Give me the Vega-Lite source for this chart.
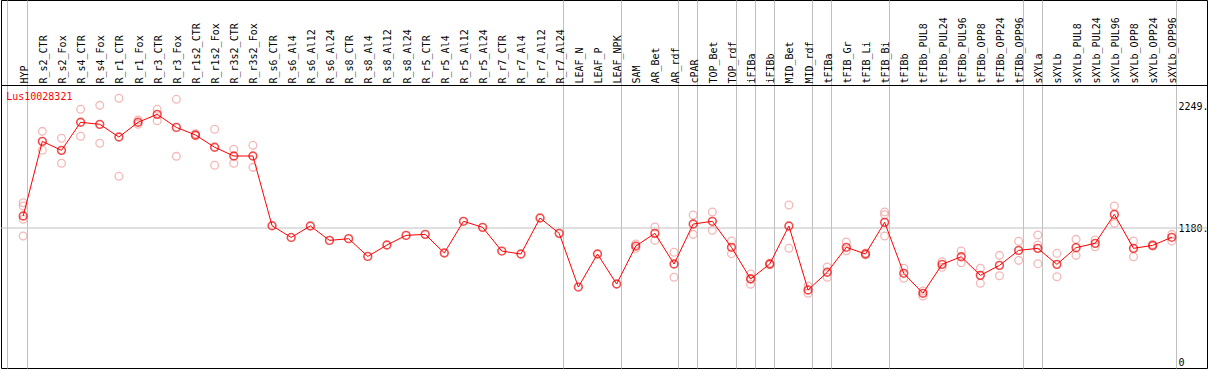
{
  "$schema": "https://vega.github.io/schema/vega-lite/v6.json",
  "width": 1206,
  "height": 368,
  "autosize": {"type": "none"},
  "padding": {"left": 1, "top": 0, "right": 2, "bottom": 2},
  "background": "white",
  "view": {"stroke": "black", "strokeWidth": 1},
  "config": {
    "font": "DejaVu Sans Mono",
    "axis": {"labelFont": "DejaVu Sans Mono", "labelFontSize": 10, "labelColor": "black", "title": null}
  },
  "datasets": {
    "means": [
      {"col": "HYP", "v": 1286}, {"col": "R_s2_CTR", "v": 1943}, {"col": "R_s2_Fox", "v": 1864},
      {"col": "R_s4_CTR", "v": 2111}, {"col": "R_s4_Fox", "v": 2093}, {"col": "R_r1_CTR", "v": 1981},
      {"col": "R_r1_Fox", "v": 2111}, {"col": "R_r3_CTR", "v": 2181}, {"col": "R_r3_Fox", "v": 2066},
      {"col": "R_r1s2_CTR", "v": 1999}, {"col": "R_r1s2_Fox", "v": 1891}, {"col": "R_r3s2_CTR", "v": 1814},
      {"col": "R_r3s2_Fox", "v": 1814}, {"col": "R_s6_CTR", "v": 1200}, {"col": "R_s6_Al4", "v": 1097},
      {"col": "R_s6_Al12", "v": 1198}, {"col": "R_s6_Al24", "v": 1071}, {"col": "R_s8_CTR", "v": 1086},
      {"col": "R_s8_Al4", "v": 930}, {"col": "R_s8_Al12", "v": 1030}, {"col": "R_s8_Al24", "v": 1115},
      {"col": "R_r5_CTR", "v": 1124}, {"col": "R_r5_Al4", "v": 960}, {"col": "R_r5_Al12", "v": 1239},
      {"col": "R_r5_Al24", "v": 1186}, {"col": "R_r7_CTR", "v": 977}, {"col": "R_r7_Al4", "v": 951},
      {"col": "R_r7_Al12", "v": 1268}, {"col": "R_r7_Al24", "v": 1133}, {"col": "LEAF_N", "v": 660},
      {"col": "LEAF_P", "v": 951}, {"col": "LEAF_NPK", "v": 687}, {"col": "SAM", "v": 1021},
      {"col": "AR_Bet", "v": 1133}, {"col": "AR_rdf", "v": 863}, {"col": "cPAR", "v": 1215},
      {"col": "TOP_Bet", "v": 1239}, {"col": "TOP_rdf", "v": 1010}, {"col": "iFIBa", "v": 731},
      {"col": "iFIBb", "v": 863}, {"col": "MID_Bet", "v": 1198}, {"col": "MID_rdf", "v": 634},
      {"col": "tFIBa", "v": 790}, {"col": "tFIB_Gr", "v": 1010}, {"col": "tFIB_Li", "v": 951},
      {"col": "tFIB_Bi", "v": 1230}, {"col": "tFIBb", "v": 781}, {"col": "tFIBb_PUL8", "v": 605},
      {"col": "tFIBb_PUL24", "v": 860}, {"col": "tFIBb_PUL96", "v": 927}, {"col": "tFIBb_OPP8", "v": 763},
      {"col": "tFIBb_OPP24", "v": 851}, {"col": "tFIBb_OPP96", "v": 983}, {"col": "sXYLa", "v": 1001},
      {"col": "sXYLb", "v": 860}, {"col": "sXYLb_PUL8", "v": 1007}, {"col": "sXYLb_PUL24", "v": 1045},
      {"col": "sXYLb_PUL96", "v": 1300}, {"col": "sXYLb_OPP8", "v": 1001}, {"col": "sXYLb_OPP24", "v": 1027},
      {"col": "sXYLb_OPP96", "v": 1098}
    ],
    "reps": [
      {"col": "HYP", "v": 1403}, {"col": "HYP", "v": 1374}, {"col": "HYP", "v": 1257}, {"col": "HYP", "v": 1110},
      {"col": "R_s2_CTR", "v": 2031}, {"col": "R_s2_CTR", "v": 1864},
      {"col": "R_s2_Fox", "v": 1970}, {"col": "R_s2_Fox", "v": 1750},
      {"col": "R_s4_CTR", "v": 2225}, {"col": "R_s4_CTR", "v": 1988},
      {"col": "R_s4_Fox", "v": 2260}, {"col": "R_s4_Fox", "v": 1926},
      {"col": "R_r1_CTR", "v": 2322}, {"col": "R_r1_CTR", "v": 1635},
      {"col": "R_r1_Fox", "v": 2131}, {"col": "R_r1_Fox", "v": 2093},
      {"col": "R_r3_CTR", "v": 2225}, {"col": "R_r3_CTR", "v": 2125},
      {"col": "R_r3_Fox", "v": 2313}, {"col": "R_r3_Fox", "v": 1811},
      {"col": "R_r1s2_CTR", "v": 2010}, {"col": "R_r1s2_CTR", "v": 1990},
      {"col": "R_r1s2_Fox", "v": 2049}, {"col": "R_r1s2_Fox", "v": 1732},
      {"col": "R_r3s2_CTR", "v": 1873}, {"col": "R_r3s2_CTR", "v": 1750},
      {"col": "R_r3s2_Fox", "v": 1908}, {"col": "R_r3s2_Fox", "v": 1714},
      {"col": "SAM", "v": 1039}, {"col": "SAM", "v": 1001},
      {"col": "AR_Bet", "v": 1189}, {"col": "AR_Bet", "v": 1071},
      {"col": "AR_rdf", "v": 966}, {"col": "AR_rdf", "v": 746},
      {"col": "cPAR", "v": 1294}, {"col": "cPAR", "v": 1124},
      {"col": "TOP_Bet", "v": 1321}, {"col": "TOP_Bet", "v": 1160},
      {"col": "TOP_rdf", "v": 1065}, {"col": "TOP_rdf", "v": 954},
      {"col": "iFIBa", "v": 775}, {"col": "iFIBa", "v": 684}, {"col": "iFIBa", "v": 735},
      {"col": "iFIBb", "v": 870}, {"col": "iFIBb", "v": 856},
      {"col": "MID_Bet", "v": 1383}, {"col": "MID_Bet", "v": 1001},
      {"col": "MID_rdf", "v": 669}, {"col": "MID_rdf", "v": 605},
      {"col": "tFIBa", "v": 837}, {"col": "tFIBa", "v": 746},
      {"col": "tFIB_Gr", "v": 1057}, {"col": "tFIB_Gr", "v": 980},
      {"col": "tFIB_Li", "v": 960}, {"col": "tFIB_Li", "v": 943},
      {"col": "tFIB_Bi", "v": 1321}, {"col": "tFIB_Bi", "v": 1297}, {"col": "tFIB_Bi", "v": 1110},
      {"col": "tFIBb", "v": 825}, {"col": "tFIBb", "v": 737},
      {"col": "tFIBb_PUL8", "v": 625}, {"col": "tFIBb_PUL8", "v": 581},
      {"col": "tFIBb_PUL24", "v": 883}, {"col": "tFIBb_PUL24", "v": 834},
      {"col": "tFIBb_PUL96", "v": 977}, {"col": "tFIBb_PUL96", "v": 874},
      {"col": "tFIBb_OPP8", "v": 825}, {"col": "tFIBb_OPP8", "v": 693},
      {"col": "tFIBb_OPP24", "v": 939}, {"col": "tFIBb_OPP24", "v": 760},
      {"col": "tFIBb_OPP96", "v": 1063}, {"col": "tFIBb_OPP96", "v": 895},
      {"col": "sXYLa", "v": 1118}, {"col": "sXYLa", "v": 1030}, {"col": "sXYLa", "v": 866},
      {"col": "sXYLb", "v": 957}, {"col": "sXYLb", "v": 751},
      {"col": "sXYLb_PUL8", "v": 1080}, {"col": "sXYLb_PUL8", "v": 939},
      {"col": "sXYLb_PUL24", "v": 1074}, {"col": "sXYLb_PUL24", "v": 1015},
      {"col": "sXYLb_PUL96", "v": 1374}, {"col": "sXYLb_PUL96", "v": 1221},
      {"col": "sXYLb_OPP8", "v": 1065}, {"col": "sXYLb_OPP8", "v": 927},
      {"col": "sXYLb_OPP24", "v": 1035}, {"col": "sXYLb_OPP24", "v": 1020},
      {"col": "sXYLb_OPP96", "v": 1124}, {"col": "sXYLb_OPP96", "v": 1065}
    ],
    "ref": [{"ref": 1180}],
    "gene": [{"gene": "Lus10028321", "at": "HYP", "v": 2334}]
  },
  "resolve": {"scale": {"x": "shared", "y": "shared"}, "axis": {"x": "independent", "y": "shared"}},
  "layer": [
    {
      "data": {"name": "ref"},
      "mark": {"type": "rule", "color": "#c0c0c0", "strokeWidth": 1},
      "encoding": {
        "y": {"field": "ref", "type": "quantitative",
          "scale": {"domain": [-52.8, 3187.8], "nice": false, "zero": false},
          "axis": {"orient": "right", "values": [0, 1180, 2249], "ticks": false, "domain": false, "grid": false,
            "labelAlign": "left", "labelBaseline": "middle", "labelPadding": -29,
            "labelExpr": "datum.value == 0 ? '0' : datum.value + '.'"}}
      }
    },
    {
      "data": {"name": "reps"},
      "mark": {"type": "point", "shape": "circle", "filled": false, "size": 60, "stroke": "#f09a9a", "strokeWidth": 1.3},
      "encoding": {
        "x": {"field": "col", "type": "nominal",
          "scale": {"type": "band", "paddingInner": 0, "paddingOuter": 1.2368, "align": 0.3298,
            "domain": ["HYP","R_s2_CTR","R_s2_Fox","R_s4_CTR","R_s4_Fox","R_r1_CTR","R_r1_Fox","R_r3_CTR","R_r3_Fox","R_r1s2_CTR","R_r1s2_Fox","R_r3s2_CTR","R_r3s2_Fox","R_s6_CTR","R_s6_Al4","R_s6_Al12","R_s6_Al24","R_s8_CTR","R_s8_Al4","R_s8_Al12","R_s8_Al24","R_r5_CTR","R_r5_Al4","R_r5_Al12","R_r5_Al24","R_r7_CTR","R_r7_Al4","R_r7_Al12","R_r7_Al24","LEAF_N","LEAF_P","LEAF_NPK","SAM","AR_Bet","AR_rdf","cPAR","TOP_Bet","TOP_rdf","iFIBa","iFIBb","MID_Bet","MID_rdf","tFIBa","tFIB_Gr","tFIB_Li","tFIB_Bi","tFIBb","tFIBb_PUL8","tFIBb_PUL24","tFIBb_PUL96","tFIBb_OPP8","tFIBb_OPP24","tFIBb_OPP96","sXYLa","sXYLb","sXYLb_PUL8","sXYLb_PUL24","sXYLb_PUL96","sXYLb_OPP8","sXYLb_OPP24","sXYLb_OPP96"]},
          "axis": {"orient": "top", "offset": -85, "ticks": false, "tickSize": 0, "grid": false,
            "domain": true, "domainColor": "black", "domainWidth": 1,
            "labelAngle": -90, "labelAlign": "left", "labelBaseline": "middle", "labelPadding": 2, "labelOffset": 1.5,
            "labelOverlap": false, "labelLimit": 200, "bandPosition": 0.5}},
        "y": {"field": "v", "type": "quantitative",
          "scale": {"domain": [-52.8, 3187.8], "nice": false, "zero": false}}
      }
    },
    {
      "data": {"name": "means"},
      "mark": {"type": "line", "color": "#ff0000", "strokeWidth": 1},
      "encoding": {
        "x": {"field": "col", "type": "nominal",
          "axis": {"orient": "bottom", "values": ["HYP","R_r7_Al24","LEAF_NPK","AR_rdf","cPAR","TOP_rdf","iFIBa","iFIBb","MID_rdf","tFIBa","tFIB_Bi","tFIBb_OPP96","sXYLa","sXYLb_OPP96"],
            "bandPosition": 0.737, "grid": true, "gridColor": "#c0c0c0", "gridWidth": 1,
            "ticks": false, "labels": false, "domain": false}},
        "y": {"field": "v", "type": "quantitative"}
      }
    },
    {
      "data": {"name": "means"},
      "mark": {"type": "point", "shape": "circle", "filled": false, "size": 60, "stroke": "#ee0000", "strokeWidth": 1.6},
      "encoding": {
        "x": {"field": "col", "type": "nominal",
          "axis": {"orient": "bottom", "values": ["HYP"], "bandPosition": -0.342, "grid": true, "gridColor": "#c0c0c0", "gridWidth": 1,
            "ticks": false, "labels": false, "domain": false}},
        "y": {"field": "v", "type": "quantitative"}
      }
    },
    {
      "data": {"name": "gene"},
      "mark": {"type": "text", "color": "#ff0000", "font": "DejaVu Sans Mono", "fontSize": 10, "align": "left", "baseline": "middle", "dx": -17},
      "encoding": {
        "x": {"field": "at", "type": "nominal", "axis": null},
        "y": {"field": "v", "type": "quantitative"},
        "text": {"field": "gene"}
      }
    }
  ]
}
